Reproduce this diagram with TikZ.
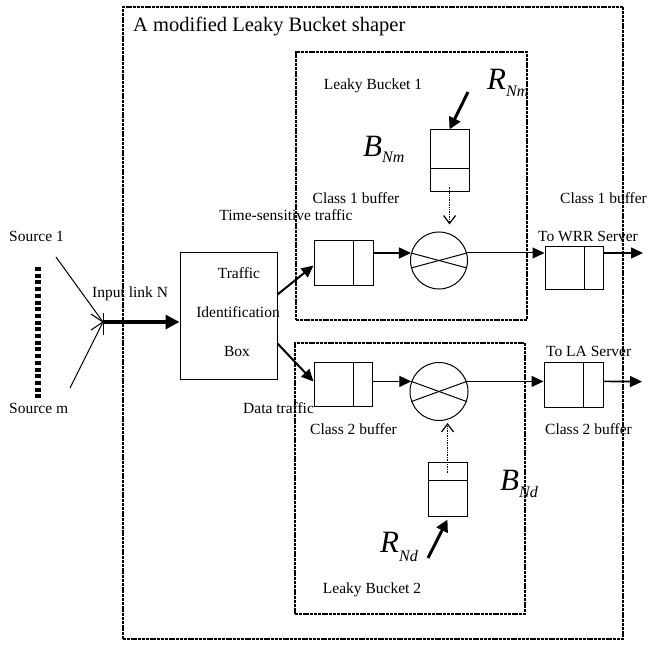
\documentclass[tikz,border=0pt]{standalone}
\usepackage{fontspec}
\setmainfont{Liberation Serif}
\usetikzlibrary{arrows.meta,calc}
\newcommand\symlbl[3]{{\fontsize{31}{31}\selectfont\textit{#1}}\raisebox{-#3}{\fontsize{16}{16}\selectfont\textit{#2}}}
\begin{document}
\begin{tikzpicture}[x=1pt,y=-1pt,
  lbl/.style={font=\fontsize{15.5}{18}\selectfont, inner sep=0pt},
  titlelbl/.style={font=\fontsize{20.5}{24}\selectfont, inner sep=0pt},
  plainbox/.style={draw, line width=1pt, inner sep=0pt},
  dbox/.style={draw, line width=1.3pt, dash pattern=on 3pt off 0.8pt, inner sep=0pt},
  mixer/.style={draw, circle, line width=1pt, inner sep=0pt, minimum size=#1},
  tri/.style={-{Triangle[length=12pt,width=11pt]}},
  dotarrow/.style={line width=1.6pt, dash pattern=on 1.3pt off 1.1pt, -{Straight Barb[length=8pt,width=12pt,line width=1.2pt]}},
  thin/.style={line width=1pt}]
\useasboundingbox (0,0) rectangle (648,647);

% containers
\node[dbox, minimum width=500pt, minimum height=632pt] (outer) at (373,323) {};
\node[titlelbl, anchor=base west] (title) at (133,32) {A modified Leaky Bucket shaper};
\node[dbox, minimum width=231pt, minimum height=268pt] (lb1) at (411.5,186) {};
\node[dbox, minimum width=230pt, minimum height=271pt] (lb2) at (410,478.5) {};
\node[lbl, anchor=base] (lb1t) at (373,90) {Leaky Bucket 1};
\node[lbl, anchor=base] (lb2t) at (372,593) {Leaky Bucket 2};

% sources
\node[lbl, anchor=base west] (s1) at (9,241) {Source 1};
\node[lbl, anchor=base west] (sm) at (9,413) {Source m};
\coordinate (dtop) at (38,267);
\coordinate (dbot) at (38,401);
\draw[line width=6pt, dash pattern=on 4pt off 2.7pt] (dtop) -- (dbot);
\coordinate (s1e) at (56,257);
\coordinate (sme) at (70,388);
\coordinate (jn) at (103,322);
\draw[thin] (s1e) -- (jn);
\draw[thin] (sme) -- (jn);
\draw[thin] ($(jn)+(-12,-8)$) -- (jn) -- ($(jn)+(-12,8)$);
\draw[thin] ($(jn)+(0,-9)$) -- ($(jn)+(0,13)$);
\node[lbl, anchor=base west] (inl) at (92,297) {Input link N};

% traffic identification box
\node[plainbox, minimum width=97pt, minimum height=126pt] (tb) at (228.5,316) {};
\node[lbl, anchor=base] (tb1) at (239,279) {Traffic};
\node[lbl, anchor=base] (tb2) at (238,317) {Identification};
\node[lbl, anchor=base] (tb3) at (237,356) {Box};
\draw[line width=3.2pt, -{Triangle[length=14pt,width=14pt]}] (jn) -- (jn -| tb.west);

% buffers
\node[plainbox, minimum width=59pt, minimum height=44pt] (b1) at (343.5,263) {};
\node[plainbox, minimum width=58pt, minimum height=44pt] (b2) at (343,384) {};
\node[plainbox, minimum width=58pt, minimum height=42pt] (ob1) at (574,268) {};
\node[plainbox, minimum width=59pt, minimum height=45pt] (ob2) at (573.5,384.5) {};
\foreach \b/\f in {b1/0.66, b2/0.67, ob1/0.67, ob2/0.66}{
  \draw[thin] ($(\b.north west)!\f!(\b.north east)$) -- ($(\b.south west)!\f!(\b.south east)$);
}

% mixers
\node[mixer=57pt] (c1) at (439,260.5) {};
\node[mixer=58pt] (c2) at (439,391.5) {};
\draw[thin] (c1.165) -- (c1.-15);
\draw[thin] (c1.195) -- (c1.15);
\draw[thin] (c2.160) -- (c2.-20);
\draw[thin] (c2.200) -- (c2.20);

% token buckets
\node[plainbox, minimum width=39pt, minimum height=62pt] (bk1) at (449.5,161) {};
\draw[thin] ($(bk1.north west)!0.613!(bk1.south west)$) -- ($(bk1.north east)!0.613!(bk1.south east)$);
\node[plainbox, minimum width=39pt, minimum height=54pt] (bk2) at (447.5,489) {};
\draw[thin] ($(bk2.north west)!0.35!(bk2.south west)$) -- ($(bk2.north east)!0.35!(bk2.south east)$);

% symbols
\node[inner sep=0pt, anchor=base west] (rnm) at (487,90) {\symlbl{R}{Nm}{7pt}};
\node[inner sep=0pt, anchor=base west] (bnm) at (363,157) {\symlbl{B}{Nm}{6pt}};
\node[inner sep=0pt, anchor=base west] (rnd) at (380,552) {\symlbl{R}{Nd}{9pt}};
\node[inner sep=0pt, anchor=base west] (bnd) at (500,490) {\symlbl{B}{Nd}{7pt}};
\coordinate (rnms) at (468,92);
\coordinate (rnds) at (428,558);
\draw[line width=3pt, -{Triangle[length=12pt,width=12pt]}] (rnms) -- (bk1.north);
\draw[line width=3pt, -{Triangle[length=12pt,width=12pt]}] (rnds) -- ($(bk2.south)+(0,3)$);
\draw[dotarrow] ($(bk1.south)+(0,-5)$) -- ($(c1.north -| bk1.south)+(0,-7)$);
\draw[dotarrow] ($(bk2.north)+(0,11)$) -- ($(c2.south -| bk2.north)+(0,2)$);

% flows
\draw[line width=2pt, -{Triangle[length=12pt,width=11pt]}] ($(tb.north east)+(0,42)$) -- ($(b1.south west)+(0,-20)$);
\draw[line width=2pt, -{Triangle[length=12pt,width=11pt]}] ($(tb.south east)+(0,-36)$) -- ($(b2.south west)+(0,-25)$);
\draw[line width=1.4pt, tri] (c1.165 -| b1.east) -- (c1.165);
\draw[line width=1.4pt, tri] (c2.160 -| b2.east) -- (c2.160);
\draw[thin, tri] (c1.15) -- (c1.15 -| ob1.west);
\draw[thin, tri] (c2.20) -- (c2.20 -| ob2.west);
\coordinate (o1) at (643,253);
\coordinate (o2) at (642,381.6);
\draw[line width=1.6pt, tri] (ob1.east |- c1.15) -- (o1);
\draw[line width=1.6pt, tri] (ob2.east |- c2.20) -- (o2);

% labels
\node[lbl, anchor=base] (tst) at (286,221) {Time-sensitive traffic};
\node[lbl, anchor=base] (c1b) at (356,204) {Class 1 buffer};
\node[lbl, anchor=base west] (c1bo) at (560,204) {Class 1 buffer};
\node[lbl, anchor=base west] (wrr) at (538,242) {To WRR Server};
\node[lbl, anchor=base west] (dt) at (243,413) {Data traffic};
\node[lbl, anchor=base west] (c2b) at (310,434) {Class 2 buffer};
\node[lbl, anchor=base west] (c2bo) at (545,434) {Class 2 buffer};
\node[lbl, anchor=base west] (la) at (546,356) {To LA Server};
\end{tikzpicture}
\end{document}
